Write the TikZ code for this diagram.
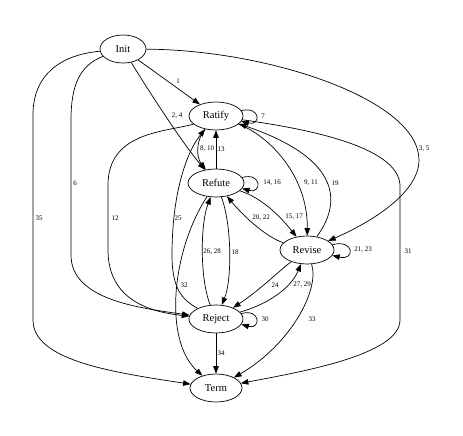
\documentclass[tikz,border=0pt]{standalone}
\usepackage{fontspec}
\setmainfont{Liberation Serif}
\usetikzlibrary{arrows.meta,shapes.geometric}
\begin{document}
\begin{tikzpicture}[x=1pt,y=-1pt,
  st/.style={draw, ellipse, inner sep=0pt, minimum height=28pt, line width=0.7pt, font=\fontsize{10.5}{12}\selectfont},
  ed/.style={-{Triangle[length=7.5pt,width=5.5pt]}, line width=0.7pt},
  lbl/.style={font=\fontsize{7}{8}\selectfont, inner sep=0pt}]
\useasboundingbox (0,0) rectangle (463,436);
% nodes
\node[st, minimum width=46pt] (Init)   at (123,49)  {Init};
\node[st, minimum width=54pt] (Ratify) at (216,116) {Ratify};
\node[st, minimum width=56pt] (Refute) at (216,183) {Refute};
\node[st, minimum width=54pt] (Revise) at (307,250) {Revise};
\node[st, minimum width=54pt] (Reject) at (216,319) {Reject};
\node[st, minimum width=52pt] (Term)   at (216,388) {Term};
% edges
\draw[ed] (Init) -- (Ratify);
\draw[ed] (Init) .. controls (145,85) and (180,140) .. (Refute);
\draw[ed] (Init) .. controls (270,50) and (419,100) .. (419,160) .. controls (419,195) and (365,225) .. (Revise);
\draw[ed] (Init) .. controls (80,65) and (71,85) .. (71,120) -- (71,255) .. controls (71,300) and (140,308) .. (Reject);
\draw[ed] (Init) .. controls (60,55) and (33,75) .. (33,115) -- (33,320) .. controls (33,360) and (110,372) .. (Term);
\draw[ed] (Ratify.12) .. controls (261,106) and (261,126) .. (Ratify.-12);
\draw[ed] (Ratify) .. controls (196,140) and (196,157) .. (Refute);
\draw[ed] (Refute) -- (Ratify);
\draw[ed] (Ratify) .. controls (268,135) and (308,175) .. (Revise);
\draw[ed] (Revise) .. controls (340,205) and (345,160) .. (Ratify);
\draw[ed] (Ratify) .. controls (300,128) and (398,145) .. (400,185) -- (400,320) .. controls (400,355) and (300,372) .. (Term);
\draw[ed] (Ratify.200) .. controls (165,132) and (108,132) .. (108,185) -- (108,250) .. controls (108,300) and (150,312) .. (Reject);
\draw[ed] (Reject) .. controls (183,300) and (172,290) .. (172,255) .. controls (172,190) and (188,150) .. (Ratify);
\draw[ed] (Refute.12) .. controls (262,172) and (262,194) .. (Refute.-12);
\draw[ed] (Refute) .. controls (262,198) and (280,216) .. (Revise);
\draw[ed] (Revise) .. controls (268,238) and (245,218) .. (Refute);
\draw[ed] (Refute) .. controls (232,225) and (232,280) .. (Reject);
\draw[ed] (Reject) .. controls (200,280) and (200,225) .. (Refute);
\draw[ed] (Refute) .. controls (172,250) and (163,340) .. (Term);
\draw[ed] (Revise.12) .. controls (355,239) and (355,261) .. (Revise.-12);
\draw[ed] (Revise) .. controls (280,270) and (260,290) .. (Reject);
\draw[ed] (Reject) .. controls (265,305) and (290,290) .. (Revise);
\draw[ed] (Reject.12) .. controls (261,308) and (261,330) .. (Reject.-12);
\draw[ed] (Revise) .. controls (320,290) and (290,345) .. (Term);
\draw[ed] (Reject) -- (Term);
% labels
\node[lbl] (l1)  at (178,81)  {1};
\node[lbl] (l2)  at (177,116) {2, 4};
\node[lbl] (l3)  at (424,149) {3, 5};
\node[lbl] (l6)  at (75,183)  {6};
\node[lbl] (l35) at (39,218)  {35};
\node[lbl] (l7)  at (263,116) {7};
\node[lbl] (l8)  at (207,149) {8, 10};
\node[lbl] (l13) at (221,149) {13};
\node[lbl] (l9)  at (311,183) {9, 11};
\node[lbl] (l19) at (335,183) {19};
\node[lbl] (l31) at (408,251) {31};
\node[lbl] (l12) at (115,218) {12};
\node[lbl] (l25) at (178,218) {25};
\node[lbl] (l14) at (272,183) {14, 16};
\node[lbl] (l15) at (294,217) {15, 17};
\node[lbl] (l20) at (261,218) {20, 22};
\node[lbl] (l18) at (235,252) {18};
\node[lbl] (l26) at (212,252) {26, 28};
\node[lbl] (l32) at (184,285) {32};
\node[lbl] (l21) at (363,250) {21, 23};
\node[lbl] (l24) at (275,285) {24};
\node[lbl] (l27) at (302,285) {27, 29};
\node[lbl] (l30) at (265,319) {30};
\node[lbl] (l33) at (312,319) {33};
\node[lbl] (l34) at (221,353) {34};
\end{tikzpicture}
\end{document}
